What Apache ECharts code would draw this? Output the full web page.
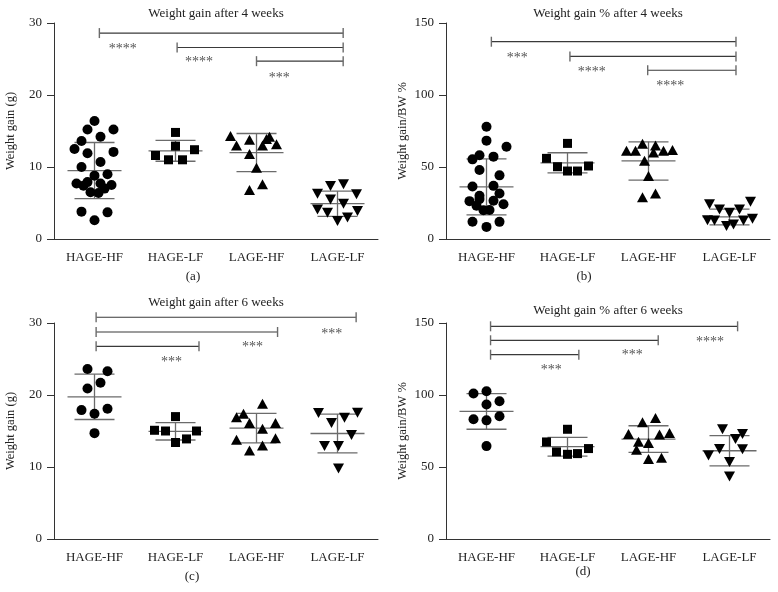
<!DOCTYPE html>
<html><head><meta charset="utf-8">
<script src="https://cdn.jsdelivr.net/npm/echarts@6.0.0/dist/echarts.min.js"></script>
<style>html,body{margin:0;padding:0;background:#fff}#chart{width:778px;height:592px}</style>
</head><body><div id="chart"></div>
<script>
// ---------- data ----------
const categories = ['HAGE-HF', 'HAGE-LF', 'LAGE-HF', 'LAGE-LF'];

// (a) Weight gain after 4 weeks (g)
const aHageHf = [16.4,15.2,15.2,12.5,13.6,14.2,11.9,12.1,10.0,10.7,8.8,9.0,7.7,7.9,7.4,7.7,7.5,7.0,6.5,6.4,3.8,3.7,2.6];
const aHageLf = [14.8,12.9,12.4,11.6,11.0,11.0];
const aLageHf = [14.3,13.0,13.8,14.2,13.9,13.0,13.15,11.8,9.9,6.8,7.6];
const aLageLf = [6.3,7.35,7.6,6.2,5.5,4.9,4.1,3.65,3.9,3.0,2.5];
const aMeans = [9.5, 12.25, 12.0, 4.9];
const aSds = [3.9, 1.45, 2.65, 1.75];

// (b) Weight gain % after 4 weeks
const bHageHf = [78.0,68.3,64.1,55.3,58.2,57.2,47.9,44.2,36.4,36.9,30.0,31.6,26.3,27.7,26.6,23.1,24.1,20.0,20.1,12.0,11.9,8.4];
const bHageLf = [66.4,56.0,50.2,50.7,47.2,47.2];
const bLageHf = [61.3,61.3,66.2,65.0,61.3,61.8,60.0,54.3,43.7,29.0,31.6];
const bLageLf = [24.1,20.4,18.3,20.4,25.9,13.0,12.8,9.0,10.0,12.8,14.1];
const bMeans = [36.2, 52.9, 54.2, 15.3];
const bSds = [19.4, 7.0, 13.3, 5.5];

// (c) Weight gain after 6 weeks (g)
const cHageHf = [23.6,23.3,20.9,21.7,17.9,17.4,18.1,14.7];
const cHageLf = [17.0,15.1,15.0,15.0,13.9,13.4];
const cLageHf = [18.8,16.9,17.4,16.1,16.1,15.3,13.8,14.0,13.0,12.3];
const cLageLf = [17.5,16.1,16.85,17.55,14.45,12.9,12.9,9.8];
const cMeans = [19.75, 14.95, 15.4, 14.65];
const cSds = [3.15, 1.2, 2.05, 2.7];

// (d) Weight gain % after 6 weeks
const dHageHf = [101.0,102.6,95.6,93.4,83.1,82.4,85.3,64.5];
const dHageLf = [76.2,67.4,60.5,58.8,59.3,62.8];
const dLageHf = [84.0,81.0,72.9,72.5,73.6,67.6,66.6,62.0,55.5,56.5];
const dLageLf = [76.2,72.9,69.4,58.0,62.5,62.3,53.5,43.4];
const dMeans = [88.6, 64.1, 69.4, 61.3];
const dSds = [12.4, 6.5, 9.25, 10.5];

// significance brackets: [fromX, toX, height, labelX, labelY] (category units / axis values)
const aBrackets = [[0.06,3.07,28.6,0.35,26.7],[1.02,3.07,26.6,1.29,24.9],[2.0,3.07,24.7,2.28,22.8]];
const aStars = ['****','****','***'];
const bBrackets = [[0.06,3.08,137.0,0.38,127.8],[1.03,3.08,126.8,1.30,118.0],[1.99,3.08,117.2,2.27,108.1]];
const bStars = ['***','****','****'];
const cBrackets = [[0.02,3.23,30.8,2.93,28.9],[0.02,2.26,28.75,1.95,27.1],[0.02,1.29,26.76,0.95,25.0]];
const cStars = ['***','***','***'];
const dBrackets = [[0.05,3.10,147.7,2.76,138.7],[0.05,2.12,138.0,1.80,129.9],[0.05,1.14,128.0,0.80,119.4]];
const dStars = ['****','***','***'];

const titles = ['Weight gain after 4 weeks','Weight gain % after 4 weeks','Weight gain after 6 weeks','Weight gain % after 6 weeks'];
const yNames = ['Weight gain (g)','Weight gain/BW %','Weight gain (g)','Weight gain/BW %'];
const captions = ['(a)','(b)','(c)','(d)'];
const yMaxes = [30, 150, 30, 150];
const yIntervals = [10, 50, 10, 50];

// ---------- layout (horizontal jitter of dots, px) ----------
const aJit = [[0,-7,19,-20,-13,6,-7,19,-13,6,0,13,-18,-7,-11,6,17,10,-4,4,-13,13,0],[0,0,19,-20,-7,7],[-26,-20,-7,13,10,6,20,-7,0,-7,6],[-20,-7,6,19,-7,6,-20,-10,20,10,0]];
const bJit = [[0,0,20,-14,-7,7,-7,13,-14,7,-7,13,-17,-7,7,-10,17,-3,3,-14,13,0],[0,-21,-10,21,0,10],[-22,-13,-6,7,15,24,5,-4,0,-6,7],[-20,-10,0,10,21,-22,-15,-3,4,14,23]];
const cJit = [[-7,13,-7,6,-13,0,13,0],[0,-21,-10,21,11,0],[6,-20,-13,-7,19,6,-20,19,6,-7],[-19,-6,7,20,14,-13,1,1]];
const dJit = [[-13,0,13,0,-13,0,13,0],[0,-21,-11,0,10,21],[7,-6,-20,11,21,-10,0,-12,0,13],[-7,13,6,-21,-10,13,0,0]];

const FONT = '"Liberation Serif", "DejaVu Serif", serif';
const GRID_W = 324, GRID_H = 216, BAND = GRID_W / 4;
const gridPos = [[54,23],[446,23],[54,323],[446,323]];
const titlePos = [[216,14],[608,14],[216,303],[608,311]];
const captionPos = [[193,277],[584,277],[192,577],[583,572]];

const panels = [
  {vals:[aHageHf,aHageLf,aLageHf,aLageLf], jit:aJit, means:aMeans, sds:aSds, br:aBrackets, stars:aStars},
  {vals:[bHageHf,bHageLf,bLageHf,bLageLf], jit:bJit, means:bMeans, sds:bSds, br:bBrackets, stars:bStars},
  {vals:[cHageHf,cHageLf,cLageHf,cLageLf], jit:cJit, means:cMeans, sds:cSds, br:cBrackets, stars:cStars},
  {vals:[dHageHf,dHageLf,dLageHf,dLageLf], jit:dJit, means:dMeans, sds:dSds, br:dBrackets, stars:dStars}
];

const symbols = [
  {symbol:'circle', symbolSize:10, symbolRotate:0},
  {symbol:'rect', symbolSize:9, symbolRotate:0},
  {symbol:'triangle', symbolSize:[11,10], symbolRotate:0},
  {symbol:'triangle', symbolSize:[11,10], symbolRotate:180}
];

const grids = [], xAxes = [], yAxes = [], series = [], graphics = [];

function renderErr(params, api) {
  const x = api.value(0), m = api.value(1), s = api.value(2);
  const c = api.coord([x, m]), t = api.coord([x, m + s]), b = api.coord([x, m - s]);
  const st = {stroke:'#6b6b6b', lineWidth:1.3};
  return {type:'group', children:[
    {type:'line', shape:{x1:c[0], y1:t[1], x2:c[0], y2:b[1]}, style:st},
    {type:'line', shape:{x1:c[0]-20, y1:t[1], x2:c[0]+20, y2:t[1]}, style:st},
    {type:'line', shape:{x1:c[0]-20, y1:b[1], x2:c[0]+20, y2:b[1]}, style:st},
    {type:'line', shape:{x1:c[0]-27, y1:c[1], x2:c[0]+27, y2:c[1]}, style:st}
  ]};
}

function makeBracketRenderer(stars) {
  return function (params, api) {
    const p1 = api.coord([api.value(0), api.value(2)]);
    const p2 = api.coord([api.value(1), api.value(2)]);
    const lp = api.coord([api.value(3), api.value(4)]);
    return {type:'group', children:[
      {type:'line', shape:{x1:p1[0], y1:p1[1], x2:p2[0], y2:p2[1]}, style:{stroke:'#3a3a3a', lineWidth:1.2}},
      {type:'line', shape:{x1:p1[0], y1:p1[1]-5, x2:p1[0], y2:p1[1]+5}, style:{stroke:'#6b6b6b', lineWidth:1.4}},
      {type:'line', shape:{x1:p2[0], y1:p2[1]-5, x2:p2[0], y2:p2[1]+5}, style:{stroke:'#6b6b6b', lineWidth:1.4}},
      {type:'text', x:lp[0], y:lp[1]+3, style:{text:stars[params.dataIndex], align:'center', verticalAlign:'middle', fontSize:14, fontFamily:FONT, fill:'#555'}}
    ]};
  };
}

panels.forEach((p, i) => {
  grids.push({left:gridPos[i][0], top:gridPos[i][1], width:GRID_W, height:GRID_H});
  xAxes.push({
    type:'category', gridIndex:i, data:categories, boundaryGap:true,
    axisLine:{onZero:false, lineStyle:{color:'#333', width:1}},
    axisTick:{alignWithLabel:true, length:4, lineStyle:{color:'#333'}},
    axisLabel:{fontFamily:FONT, fontSize:13, color:'#222', margin:12},
    splitLine:{show:false}
  });
  xAxes.push({type:'value', gridIndex:i, min:-0.5, max:3.5, show:false});
  yAxes.push({
    type:'value', gridIndex:i, min:0, max:yMaxes[i], interval:yIntervals[i],
    axisLine:{show:true, onZero:false, lineStyle:{color:'#333', width:1}},
    axisTick:{show:true, length:7, lineStyle:{color:'#333'}},
    axisLabel:{fontFamily:FONT, fontSize:13, color:'#222', margin:12},
    splitLine:{show:false},
    name:yNames[i], nameLocation:'middle', nameGap:37, nameRotate:90,
    nameTextStyle:{fontFamily:FONT, fontSize:12.5, color:'#222'}
  });
  series.push({
    type:'custom', xAxisIndex:2*i+1, yAxisIndex:i, z:2, silent:true,
    renderItem:renderErr, encode:{x:0, y:1},
    data:p.means.map((m, g) => [g, m, p.sds[g]])
  });
  p.vals.forEach((arr, g) => {
    series.push(Object.assign({
      type:'scatter', xAxisIndex:2*i+1, yAxisIndex:i, z:3,
      itemStyle:{color:'#000', opacity:1},
      data:arr.map((v, k) => [g + p.jit[g][k] / BAND, v])
    }, symbols[g]));
  });
  series.push({
    type:'custom', xAxisIndex:2*i+1, yAxisIndex:i, z:4, silent:true, clip:false,
    renderItem:makeBracketRenderer(p.stars), encode:{x:0, y:2},
    data:p.br
  });
  graphics.push({type:'text', x:titlePos[i][0], y:titlePos[i][1], style:{text:titles[i], align:'center', verticalAlign:'middle', fontFamily:FONT, fontSize:13, fill:'#222'}});
  graphics.push({type:'text', x:captionPos[i][0], y:captionPos[i][1], style:{text:captions[i], align:'center', verticalAlign:'middle', fontFamily:FONT, fontSize:13, fill:'#222'}});
});

const chart = echarts.init(document.getElementById('chart'), null, {renderer:'canvas'});
chart.setOption({
  animation:false,
  backgroundColor:'#fff',
  grid:grids, xAxis:xAxes, yAxis:yAxes, series:series, graphic:graphics
});
</script>
</body></html>
